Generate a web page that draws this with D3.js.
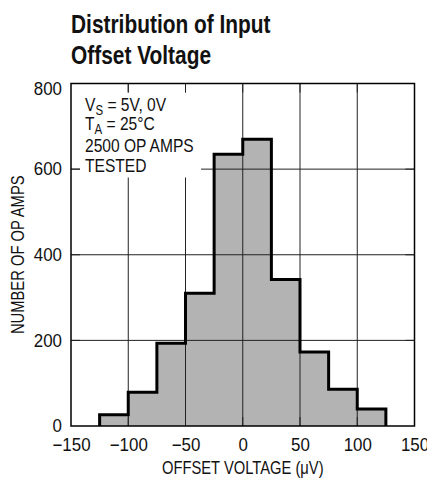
<!DOCTYPE html>
<html>
<head>
<meta charset="utf-8">
<script src="https://cdn.jsdelivr.net/npm/d3@7"></script>
<style>
  body { margin: 0; background: #fff; }
  text { font-family: "Liberation Sans", Arial, sans-serif; fill: #111; }
</style>
</head>
<body>
<div id="chart"></div>
<script>
// histogram bins (offset voltage, uV) and counts
var binStarts = [-125, -100, -75, -50, -25, 0, 25, 50, 75, 100];
var binWidth = 25;
var counts = [26, 79, 193, 310, 635, 670, 342, 173, 86, 40];

var xTicks = [-150, -100, -50, 0, 50, 100, 150];
var yTicks = [0, 200, 400, 600, 800];

var titleLines = ["Distribution of Input", "Offset Voltage"];

var width = 427;
var height = 479;
var margin = { top: 83.5, right: 12.5, bottom: 53, left: 71 };
var innerWidth = width - margin.left - margin.right;
var innerHeight = height - margin.top - margin.bottom;

// no narrow font installed, so squeeze text horizontally around its own x
function narrow(f) {
    return function(sel) {
        sel.each(function() {
            var t = d3.select(this);
            var x0 = +t.attr("x") || 0;
            t.attr("transform", "translate(" + x0 + ",0) scale(" + f + ",1) translate(" + (-x0) + ",0)");
        });
    };
}

var svg = d3.select("#chart")
    .append("svg")
    .attr("width", width)
    .attr("height", height);

// title
var title = svg.append("text")
    .attr("x", 71)
    .attr("y", 33)
    .style("font-size", "25.5px")
    .style("font-weight", "bold");
title.selectAll("tspan")
    .data(titleLines)
    .enter()
    .append("tspan")
    .attr("x", 71)
    .attr("dy", function(d, i) { return i == 0 ? 0 : 31; })
    .text(function(d) { return d; });
title.call(narrow(0.82));

var g = svg.append("g")
    .attr("transform", "translate(" + margin.left + "," + margin.top + ")");

var x = d3.scaleLinear().domain([-150, 150]).range([0, innerWidth]);
var y = d3.scaleLinear().domain([0, 800]).range([innerHeight, 0]);

// the histogram as one stepped outline
var stepPts = [[binStarts[0], 0]];
binStarts.forEach(function(s, i) {
    stepPts.push([s, counts[i]]);
    stepPts.push([s + binWidth, counts[i]]);
});
stepPts.push([binStarts[binStarts.length - 1] + binWidth, 0]);

var line = d3.line()
    .x(function(d) { return x(d[0]); })
    .y(function(d) { return y(d[1]); });

g.append("path")
    .attr("d", line(stepPts) + "Z")
    .attr("fill", "#b3b3b3")
    .attr("stroke", "none");

// grid lines (drawn over the fill)
g.selectAll(".vgrid")
    .data(xTicks.slice(1, -1))
    .enter()
    .append("line")
    .attr("x1", function(d) { return x(d); })
    .attr("x2", function(d) { return x(d); })
    .attr("y1", 0)
    .attr("y2", innerHeight)
    .attr("stroke", "#222")
    .attr("stroke-width", 1);

g.selectAll(".hgrid")
    .data(yTicks.slice(1, -1))
    .enter()
    .append("line")
    .attr("x1", 0)
    .attr("x2", innerWidth)
    .attr("y1", function(d) { return y(d); })
    .attr("y2", function(d) { return y(d); })
    .attr("stroke", "#222")
    .attr("stroke-width", 1);

// white box behind the note
g.append("rect")
    .attr("x", 9)
    .attr("y", 9)
    .attr("width", 121)
    .attr("height", 85)
    .attr("fill", "#fff");

// inward ticks on all sides
var tickLen = 9;
xTicks.slice(1, -1).forEach(function(d) {
    g.append("line").attr("x1", x(d)).attr("x2", x(d)).attr("y1", 0).attr("y2", tickLen)
        .attr("stroke", "#222");
    g.append("line").attr("x1", x(d)).attr("x2", x(d)).attr("y1", innerHeight).attr("y2", innerHeight - tickLen)
        .attr("stroke", "#222");
});
yTicks.slice(1, -1).forEach(function(d) {
    g.append("line").attr("x1", 0).attr("x2", tickLen).attr("y1", y(d)).attr("y2", y(d))
        .attr("stroke", "#222");
    g.append("line").attr("x1", innerWidth).attr("x2", innerWidth - tickLen).attr("y1", y(d)).attr("y2", y(d))
        .attr("stroke", "#222");
});

// outline of the histogram
g.append("path")
    .attr("d", line(stepPts))
    .attr("fill", "none")
    .attr("stroke", "#000")
    .attr("stroke-width", 3)
    .attr("stroke-linejoin", "miter");

// frame
g.append("rect")
    .attr("width", innerWidth)
    .attr("height", innerHeight)
    .attr("fill", "none")
    .attr("stroke", "#000")
    .attr("stroke-width", 1.5);

// axes labels
var xAxis = d3.axisBottom(x).tickValues(xTicks).tickSize(0).tickPadding(12).tickFormat(d3.format("d"));
var xg = g.append("g")
    .attr("transform", "translate(0," + innerHeight + ")")
    .call(xAxis);
xg.select(".domain").remove();
xg.attr("font-family", null);
xg.selectAll("text").style("font-size", "18px").attr("fill", "#111").call(narrow(0.94));

var yAxis = d3.axisLeft(y).tickValues(yTicks).tickSize(0).tickPadding(9).tickFormat(d3.format("d"));
var yg = g.append("g").call(yAxis);
yg.select(".domain").remove();
yg.attr("font-family", null);
yg.selectAll("text").style("font-size", "18px").attr("fill", "#111").call(narrow(0.94));
// top label sits a little lower in the original
yg.selectAll(".tick").filter(function(d) { return d == 800; }).select("text").attr("dy", "0.6em");

var xTitle = g.append("text")
    .attr("x", innerWidth / 2)
    .attr("y", innerHeight + 48)
    .attr("text-anchor", "middle")
    .style("font-size", "18px")
    .text("OFFSET VOLTAGE (\u03BCV)");
xTitle.call(narrow(0.82));

svg.append("text")
    .attr("transform", "translate(23.5," + (margin.top + innerHeight / 2) + ") rotate(-90) scale(0.82,1)")
    .attr("text-anchor", "middle")
    .style("font-size", "18px")
    .text("NUMBER OF OP AMPS");

// note
var note = g.append("text").attr("x", 14).style("font-size", "19px");
var l1 = note.append("tspan").attr("x", 14).attr("y", 27.5);
l1.append("tspan").text("V");
l1.append("tspan").attr("dy", 4).style("font-size", "14px").text("S");
l1.append("tspan").attr("dy", -4).text(" = 5V, 0V");
var l2 = note.append("tspan").attr("x", 14).attr("y", 47);
l2.append("tspan").text("T");
l2.append("tspan").attr("dy", 4).style("font-size", "14px").text("A");
l2.append("tspan").attr("dy", -4).text(" = 25\u00B0C");
note.append("tspan").attr("x", 14).attr("y", 68.5).text("2500 OP AMPS");
note.append("tspan").attr("x", 14).attr("y", 88.5).text("TESTED");
note.call(narrow(0.82));
</script>
</body>
</html>
